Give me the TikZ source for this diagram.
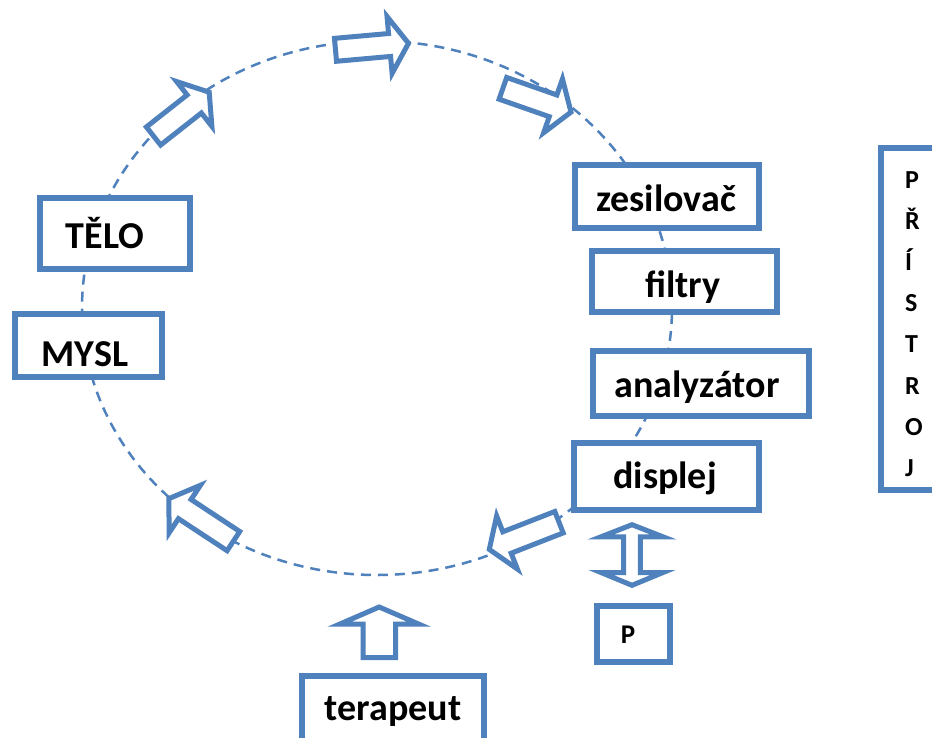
\documentclass[tikz,border=0pt]{standalone}
\usepackage{fontspec}
\setmainfont{Carlito}
\usetikzlibrary{calc}
\definecolor{obl}{HTML}{4F81BD}
\tikzset{
  box/.style={rectangle, draw=obl, line width=6pt, fill=white, inner sep=0pt},
  lbl/.style={anchor=base, inner sep=0pt, font=\fontsize{38}{40}\selectfont\bfseries},
  small/.style={anchor=base west, inner sep=0pt, font=\fontsize{26}{28}\selectfont\bfseries},
  barrow/.style={draw=obl, line width=5pt, fill=white, line join=miter},
  ring/.style={draw=obl, line width=2.5pt, dash pattern=on 10pt off 7pt}
}
\newcommand\blockarrow[5]{%
  \coordinate (ba) at ($(#2)!#5!(#1)$);
  \draw[barrow] ($(#1)!#3!90:(#2)$) -- ($(ba)!#3!90:(#2)$) -- ($(ba)!#4!90:(#2)$) -- (#2)
    -- ($(ba)!#4!-90:(#2)$) -- ($(ba)!#3!-90:(#2)$) -- ($(#1)!#3!-90:(#2)$) -- cycle;}
\begin{document}
\begin{tikzpicture}[x=1pt,y=-1pt]
\clip (0,0) rectangle (932,737);
\fill[white] (0,0) rectangle (932,737);
% dashed ring
\draw[ring] (377,308) ellipse [x radius=295pt, y radius=267pt];
% block arrows on the ring
\coordinate (a1t) at (153.5,136);   \coordinate (a1p) at (209.2,92.2);
\coordinate (a2t) at (335.5,49.8);  \coordinate (a2p) at (408.5,43.3);
\coordinate (a3t) at (502.9,88.3);  \coordinate (a3p) at (571,112.1);
\coordinate (a4t) at (559,522.2);   \coordinate (a4p) at (489.3,549.4);
\coordinate (a5t) at (233.4,541.1); \coordinate (a5p) at (168.9,498.6);
\blockarrow{a1t}{a1p}{11.5pt}{28.5pt}{19pt}
\blockarrow{a2t}{a2p}{11.5pt}{28.5pt}{19pt}
\blockarrow{a3t}{a3p}{11.5pt}{28.5pt}{19pt}
\blockarrow{a4t}{a4p}{11.5pt}{28.5pt}{19pt}
\blockarrow{a5t}{a5p}{11.5pt}{28.5pt}{19pt}
% boxes
\node[box, minimum width=150pt, minimum height=71pt] (telo) at (115,233.5) {};
\node[box, minimum width=147pt, minimum height=63pt] (mysl) at (88.5,345.5) {};
\node[box, minimum width=184pt, minimum height=63pt] (zes) at (666.5,196) {};
\node[box, minimum width=185pt, minimum height=61pt] (fil) at (684.5,281.5) {};
\node[box, minimum width=216pt, minimum height=65pt] (ana) at (701,383.5) {};
\node[box, minimum width=185pt, minimum height=67pt] (dis) at (666.5,476.5) {};
\node[box, minimum width=73pt, minimum height=56pt] (pbox) at (633.5,634) {};
\node[box, minimum width=182pt, minimum height=90pt] (ter) at (393,721) {};
\node[box, minimum width=56pt, minimum height=342pt] (pri) at (909,319) {};
% labels
\node[lbl] (telot) at (105,248) {TĚLO};
\node[lbl] (myslt) at (85,366) {MYSL};
\node[lbl] (zest) at (666,211) {zesilovač};
\node[lbl] (filt) at (683,297) {filtry};
\node[lbl] (anat) at (697,397) {analyzátor};
\node[lbl] (dist) at (665,488) {displej};
\node[lbl] (tert) at (393,720) {terapeut};
\node[small, anchor=base, font=\fontsize{27}{28}\selectfont\bfseries] (pt) at (628,643) {P};
\foreach \ch [count=\i from 0] in {P,Ř,Í,S,T,R,O,J}
  \node[small] (pr\i) at (905,188+41.2*\i) {\ch};
% double arrow between displej and P
\draw[barrow] (632,524.7) -- (663,536.8) -- (640.3,536.8) -- (640.3,572.5) -- (663,572.5)
  -- (632,585.3) -- (601,572.5) -- (623.7,572.5) -- (623.7,536.8) -- (601,536.8) -- cycle;
% up arrow from terapeut
\draw[barrow] (379.2,607) -- (419,624.2) -- (395.5,624.2) -- (395.5,657.5) -- (363,657.5)
  -- (363,624.2) -- (339.5,624.2) -- cycle;
\end{tikzpicture}
\end{document}
